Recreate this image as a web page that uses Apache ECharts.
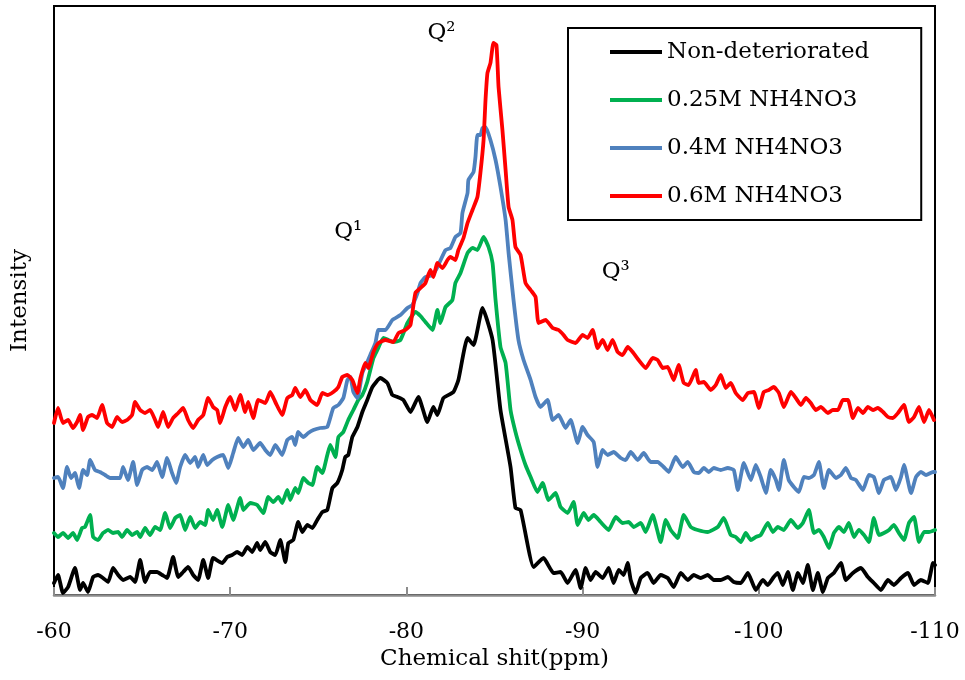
<!DOCTYPE html>
<html><head><meta charset="utf-8">
<script src="https://cdn.jsdelivr.net/npm/echarts@6/dist/echarts.min.js"></script>
<style>html,body{margin:0;padding:0;background:#fff}#c{width:965px;height:680px}</style>
</head><body><div id="c"></div>
<script>
// Series names (legend order)
const seriesNames = ['Non-deteriorated', '0.25M NH4NO3', '0.4M NH4NO3', '0.6M NH4NO3'];
const seriesColors = ['#000000', '#00B050', '#4F81BD', '#FF0000'];

// x-axis ticks (ppm)
const xMin = -110, xMax = -60, xStep = 10;
// Intensity range (arbitrary units)
const yMin = 0, yMax = 589;

// [chemical shift (ppm), intensity (a.u.)]
const nonDeteriorated = [
[-60.00,12],[-60.23,20],[-60.51,2],[-60.80,8],[-61.19,27],[-61.48,5],[-61.65,12],[-61.93,3],[-62.22,18],[-62.50,20],
[-62.78,17],[-63.07,13],[-63.35,27],[-63.64,20],[-63.92,15],[-64.32,18],[-64.60,13],[-64.89,35],[-65.17,13],[-65.45,23],
[-65.85,23],[-66.14,20],[-66.42,17],[-66.76,38],[-67.05,18],[-67.33,23],[-67.61,28],[-67.90,20],[-68.18,15],[-68.47,35],
[-68.75,17],[-69.03,37],[-69.55,32],[-69.83,38],[-70.11,40],[-70.40,43],[-70.68,40],[-70.97,48],[-71.25,43],[-71.53,52],
[-71.70,45],[-71.99,53],[-72.27,43],[-72.56,40],[-72.84,55],[-73.13,33],[-73.30,52],[-73.58,55],[-73.86,73],[-74.09,63],
[-74.38,70],[-74.66,67],[-74.94,75],[-75.23,83],[-75.51,85],[-75.80,107],[-76.08,112],[-76.36,125],[-76.53,138],[-76.70,140],
[-76.93,158],[-77.22,168],[-77.50,183],[-77.78,195],[-78.07,208],[-78.52,217],[-78.92,212],[-79.20,200],[-79.49,198],[-79.83,195],
[-80.23,183],[-80.68,198],[-81.19,173],[-81.53,188],[-81.76,180],[-82.10,197],[-82.67,203],[-82.95,215],[-83.47,257],[-83.81,250],
[-84.32,287],[-84.89,255],[-85.34,185],[-85.91,128],[-86.19,87],[-86.48,85],[-87.22,28],[-87.78,37],[-88.35,22],[-88.75,23],
[-89.15,12],[-89.60,25],[-89.89,7],[-90.17,27],[-90.45,15],[-90.74,23],[-91.14,17],[-91.48,27],[-91.76,12],[-92.05,25],
[-92.33,20],[-92.56,32],[-92.73,15],[-93.01,2],[-93.30,17],[-93.69,22],[-94.03,12],[-94.43,20],[-94.83,17],[-95.17,8],
[-95.57,22],[-95.97,15],[-96.31,20],[-96.70,17],[-97.10,20],[-97.44,15],[-97.84,15],[-98.24,18],[-98.58,13],[-98.98,12],
[-99.38,22],[-99.83,5],[-100.23,15],[-100.51,10],[-100.85,18],[-101.08,22],[-101.36,10],[-101.65,23],[-101.93,5],[-102.22,22],
[-102.50,12],[-102.78,30],[-103.07,5],[-103.35,22],[-103.64,3],[-103.92,17],[-104.26,22],[-104.66,32],[-104.94,15],[-105.34,22],
[-105.80,27],[-106.19,18],[-106.53,12],[-106.93,5],[-107.33,15],[-107.67,10],[-108.07,17],[-108.47,22],[-108.81,10],[-109.20,15],
[-109.60,12],[-109.89,32],[-110.00,30]
];

const nh4no3_025 = [
[-60.00,62],[-60.23,58],[-60.51,62],[-60.80,57],[-61.08,62],[-61.31,55],[-61.59,67],[-61.76,68],[-62.05,80],[-62.22,58],
[-62.50,55],[-62.78,62],[-63.07,65],[-63.35,62],[-63.64,63],[-63.86,58],[-64.15,65],[-64.43,60],[-64.72,63],[-64.89,58],
[-65.17,67],[-65.45,60],[-65.74,68],[-66.02,65],[-66.31,82],[-66.59,67],[-66.88,77],[-67.16,80],[-67.44,65],[-67.73,78],
[-68.01,67],[-68.30,73],[-68.58,70],[-68.75,85],[-69.03,75],[-69.26,85],[-69.55,68],[-69.89,90],[-70.17,75],[-70.57,97],
[-70.74,85],[-71.14,92],[-71.53,90],[-71.88,82],[-72.16,98],[-72.44,93],[-72.73,98],[-72.95,92],[-73.24,105],[-73.41,95],
[-73.69,107],[-73.86,102],[-74.15,117],[-74.43,112],[-74.66,110],[-74.94,128],[-75.23,122],[-75.51,140],[-75.68,150],[-75.97,138],
[-76.14,158],[-76.42,163],[-76.70,175],[-76.99,185],[-77.27,195],[-77.50,200],[-77.78,213],[-78.13,237],[-78.35,245],[-78.69,257],
[-78.98,255],[-79.26,253],[-79.66,255],[-80.06,272],[-80.51,283],[-80.80,279],[-81.08,273],[-81.48,265],[-81.76,285],[-81.93,272],
[-82.22,288],[-82.61,295],[-82.78,312],[-83.07,322],[-83.47,342],[-83.75,347],[-84.03,345],[-84.38,358],[-84.66,348],[-84.89,332],
[-85.06,295],[-85.34,248],[-85.63,232],[-85.91,185],[-86.19,163],[-86.48,145],[-86.76,130],[-87.05,118],[-87.44,103],[-87.73,112],
[-88.07,95],[-88.47,102],[-88.75,88],[-89.15,82],[-89.49,93],[-89.72,70],[-90.06,82],[-90.34,75],[-90.63,80],[-91.02,73],
[-91.48,65],[-91.88,78],[-92.27,72],[-92.61,73],[-92.90,68],[-93.30,72],[-93.58,63],[-93.98,80],[-94.43,53],[-94.72,75],
[-95.00,65],[-95.40,57],[-95.74,80],[-96.14,68],[-96.53,65],[-97.10,63],[-97.67,68],[-98.01,77],[-98.41,60],[-98.69,58],
[-98.98,53],[-99.26,62],[-99.55,55],[-99.83,58],[-100.11,60],[-100.51,72],[-100.80,63],[-101.08,68],[-101.42,65],[-101.82,75],
[-102.22,67],[-102.50,72],[-102.84,85],[-103.13,62],[-103.41,65],[-103.69,58],[-103.98,47],[-104.26,62],[-104.55,68],[-104.83,63],
[-105.11,72],[-105.40,58],[-105.68,65],[-105.97,60],[-106.25,53],[-106.53,77],[-106.82,60],[-107.10,62],[-107.39,65],[-107.67,70],
[-107.95,62],[-108.24,55],[-108.52,72],[-108.81,78],[-109.09,53],[-109.38,63],[-109.66,63],[-110.00,65]
];

const nh4no3_04 = [
[-60.00,117],[-60.23,118],[-60.51,107],[-60.74,128],[-60.97,117],[-61.19,122],[-61.42,107],[-61.65,125],[-61.88,120],[-62.05,135],
[-62.33,125],[-62.61,123],[-62.90,120],[-63.18,117],[-63.47,117],[-63.75,117],[-63.92,128],[-64.20,115],[-64.49,133],[-64.72,110],
[-65.00,125],[-65.28,128],[-65.57,125],[-65.85,133],[-66.14,118],[-66.42,137],[-66.70,122],[-66.93,112],[-67.16,128],[-67.44,140],
[-67.73,132],[-68.01,138],[-68.18,128],[-68.47,140],[-68.69,130],[-68.98,135],[-69.26,138],[-69.60,140],[-69.89,127],[-70.17,142],
[-70.45,157],[-70.74,148],[-71.02,155],[-71.31,145],[-71.70,152],[-71.99,145],[-72.27,140],[-72.56,150],[-72.95,140],[-73.24,155],
[-73.52,158],[-73.69,150],[-73.86,163],[-74.15,158],[-74.43,162],[-74.72,165],[-75.11,167],[-75.51,168],[-75.85,187],[-76.14,190],
[-76.42,197],[-76.65,215],[-76.82,218],[-76.99,203],[-77.22,197],[-77.50,222],[-77.78,233],[-77.95,240],[-78.24,252],[-78.41,265],
[-78.81,265],[-79.20,275],[-79.66,280],[-80.06,287],[-80.34,290],[-80.63,302],[-80.80,312],[-81.08,318],[-81.48,320],[-81.76,328],
[-82.22,345],[-82.50,347],[-82.78,358],[-83.07,362],[-83.18,382],[-83.47,402],[-83.52,415],[-83.81,423],[-83.92,438],[-84.03,460],
[-84.20,460],[-84.32,467],[-84.49,468],[-84.77,455],[-85.06,435],[-85.34,408],[-85.63,375],[-85.80,342],[-86.08,295],[-86.36,255],
[-86.65,235],[-87.05,215],[-87.33,198],[-87.61,188],[-88.01,195],[-88.30,175],[-88.64,180],[-89.03,167],[-89.32,175],[-89.72,152],
[-90.00,168],[-90.28,160],[-90.63,153],[-90.85,128],[-91.14,145],[-91.42,140],[-91.76,143],[-92.16,137],[-92.44,135],[-92.73,143],
[-93.13,135],[-93.47,142],[-93.86,133],[-94.26,133],[-94.60,128],[-94.89,123],[-95.28,138],[-95.68,128],[-95.97,133],[-96.31,123],
[-96.59,122],[-96.88,127],[-97.16,123],[-97.44,127],[-97.84,125],[-98.24,127],[-98.58,125],[-98.81,105],[-99.15,132],[-99.55,115],
[-99.83,130],[-100.11,118],[-100.40,102],[-100.68,125],[-100.97,115],[-101.14,105],[-101.42,135],[-101.70,115],[-101.99,108],[-102.27,103],
[-102.56,118],[-102.84,117],[-103.13,120],[-103.41,133],[-103.69,107],[-103.98,125],[-104.38,117],[-104.66,120],[-104.94,127],[-105.23,117],
[-105.51,115],[-105.91,105],[-106.25,120],[-106.53,118],[-106.82,102],[-107.10,115],[-107.50,118],[-107.78,105],[-108.07,118],[-108.24,130],
[-108.64,102],[-108.92,118],[-109.20,123],[-109.49,120],[-109.89,123],[-110.00,123]
];

const nh4no3_06 = [
[-60.00,172],[-60.23,187],[-60.51,172],[-60.80,175],[-61.08,167],[-61.31,173],[-61.48,180],[-61.65,165],[-61.93,178],[-62.16,180],
[-62.44,177],[-62.73,190],[-63.01,172],[-63.30,168],[-63.58,178],[-63.86,173],[-64.15,175],[-64.43,180],[-64.60,193],[-64.89,185],
[-65.17,182],[-65.45,185],[-65.74,175],[-65.91,168],[-66.19,183],[-66.48,168],[-66.76,177],[-67.05,182],[-67.33,187],[-67.61,175],
[-67.90,167],[-68.18,175],[-68.47,180],[-68.75,197],[-69.03,188],[-69.26,185],[-69.43,172],[-69.72,188],[-70.00,198],[-70.28,185],
[-70.57,200],[-70.85,183],[-71.02,193],[-71.31,177],[-71.59,195],[-71.99,192],[-72.27,203],[-72.56,193],[-72.95,180],[-73.24,197],
[-73.52,200],[-73.69,207],[-73.98,198],[-74.26,205],[-74.55,195],[-74.94,190],[-75.23,202],[-75.51,200],[-75.85,203],[-76.14,208],
[-76.36,218],[-76.65,220],[-76.93,215],[-77.22,202],[-77.39,217],[-77.67,232],[-77.84,227],[-78.13,243],[-78.41,252],[-78.81,255],
[-79.26,253],[-79.55,262],[-79.94,265],[-80.23,270],[-80.51,302],[-80.80,307],[-81.08,312],[-81.36,325],[-81.53,318],[-81.76,332],
[-82.05,327],[-82.33,335],[-82.50,338],[-82.78,335],[-82.95,345],[-83.24,357],[-83.47,372],[-83.75,385],[-84.03,398],[-84.20,422],
[-84.38,455],[-84.49,495],[-84.60,522],[-84.77,532],[-84.94,552],[-85.11,550],[-85.23,508],[-85.45,465],[-85.63,425],[-85.80,388],
[-86.02,375],[-86.19,348],[-86.48,340],[-86.76,312],[-87.05,305],[-87.33,298],[-87.50,272],[-87.90,275],[-88.30,267],[-88.64,265],
[-88.92,260],[-89.15,255],[-89.60,252],[-90.00,260],[-90.28,257],[-90.57,265],[-90.85,247],[-91.14,255],[-91.42,245],[-91.70,255],
[-91.99,243],[-92.27,240],[-92.56,248],[-92.84,243],[-93.18,235],[-93.58,227],[-93.98,237],[-94.26,235],[-94.55,227],[-94.83,228],
[-95.17,215],[-95.45,230],[-95.74,212],[-96.02,210],[-96.42,225],[-96.59,212],[-96.88,213],[-97.27,205],[-97.56,210],[-97.84,220],
[-98.13,207],[-98.41,212],[-98.69,202],[-99.09,195],[-99.38,202],[-99.72,203],[-100.00,187],[-100.28,203],[-100.57,205],[-100.85,208],
[-101.14,202],[-101.42,188],[-101.82,203],[-102.10,197],[-102.39,190],[-102.67,197],[-102.95,192],[-103.24,185],[-103.52,188],[-103.92,182],
[-104.20,185],[-104.49,185],[-104.77,195],[-105.06,195],[-105.34,177],[-105.63,187],[-105.91,182],[-106.19,188],[-106.48,185],[-106.76,187],
[-107.05,183],[-107.33,178],[-107.61,177],[-107.90,182],[-108.24,190],[-108.52,173],[-108.81,178],[-109.09,188],[-109.38,173],[-109.66,185],
[-109.94,175]
];

// Peak annotations: [label, ppm, intensity]
const peakLabels = [['Q¹', -76.7, 363], ['Q²', -81.99, 562], ['Q³', -91.88, 323]];

const FONT = "'DejaVu Serif', serif";
const allData = [nonDeteriorated, nh4no3_025, nh4no3_04, nh4no3_06];

const chart = echarts.init(document.getElementById('c'), null, {renderer: 'canvas'});
const series = allData.map((d, i) => ({
  name: seriesNames[i],
  type: 'line',
  data: d,
  symbol: 'none',
  smooth: 0.15,
  clip: false,
  lineStyle: {color: seriesColors[i], width: 3.8, join: 'round', cap: 'round'},
  itemStyle: {color: seriesColors[i]},
  z: 2 + i
}));
series[0].markPoint = {
  symbol: 'circle',
  symbolSize: 1,
  itemStyle: {color: 'rgba(0,0,0,0)'},
  silent: true,
  data: peakLabels.map(p => ({
    coord: [p[1], p[2]],
    label: {show: true, position: 'inside', formatter: p[0], color: '#000', fontSize: 23, fontFamily: FONT}
  }))
};

chart.setOption({
  animation: false,
  backgroundColor: '#fff',
  grid: {left: 54, right: 30, top: 6, bottom: 85, show: true, borderColor: '#000', borderWidth: 2, backgroundColor: 'transparent'},
  legend: {
    data: seriesNames,
    orient: 'vertical',
    left: 568, top: 28,
    icon: 'rect',
    itemWidth: 52, itemHeight: 4, itemGap: 24,
    padding: [12, 52, 12, 42],
    borderColor: '#000', borderWidth: 2,
    backgroundColor: '#fff',
    textStyle: {fontFamily: FONT, fontSize: 23, color: '#000', lineHeight: 24}
  },
  xAxis: {
    type: 'value', min: xMin, max: xMax, interval: xStep, inverse: true,
    name: 'Chemical shit(ppm)', nameLocation: 'middle', nameGap: 52,
    nameTextStyle: {fontFamily: FONT, fontSize: 23, color: '#000'},
    axisLine: {show: true, onZero: false, lineStyle: {color: '#8c8c8c', width: 2.5}},
    axisTick: {show: true, inside: true, length: 8, lineStyle: {color: '#8c8c8c', width: 2}},
    axisLabel: {fontFamily: FONT, fontSize: 22, color: '#000', margin: 26},
    splitLine: {show: false}
  },
  yAxis: {
    type: 'value', min: yMin, max: yMax,
    name: 'Intensity', nameLocation: 'middle', nameGap: 22,
    nameTextStyle: {fontFamily: FONT, fontSize: 23, color: '#000'},
    axisLine: {show: false}, axisTick: {show: false}, axisLabel: {show: false},
    splitLine: {show: false}
  },
  series: series
});
</script></body></html>
